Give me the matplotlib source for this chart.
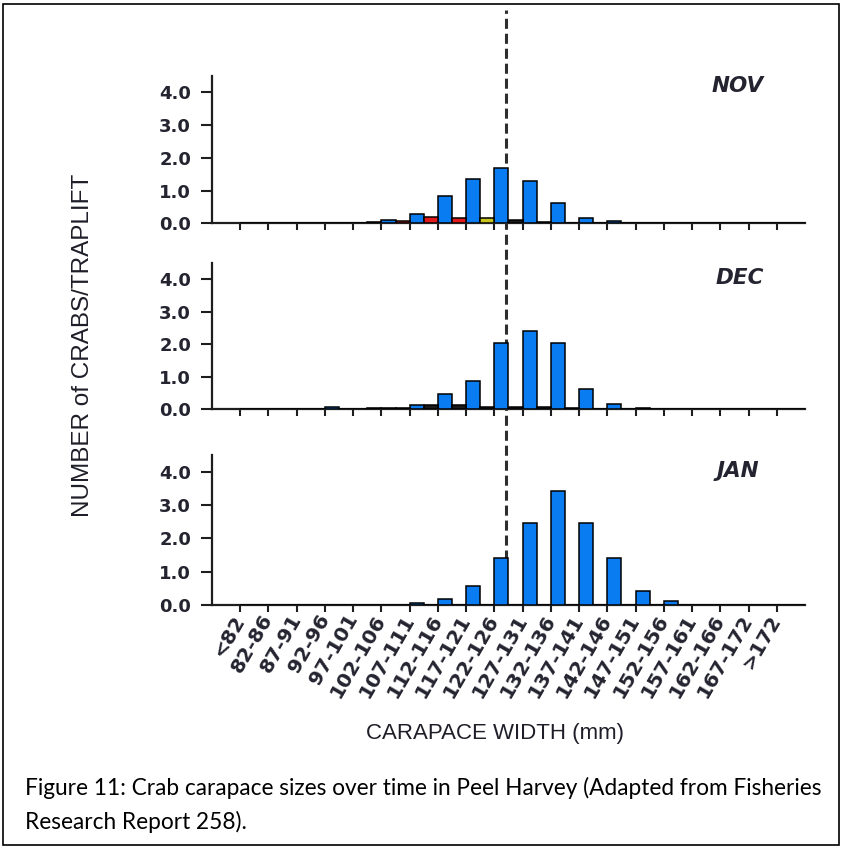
import matplotlib
matplotlib.use('Agg')
import matplotlib.pyplot as plt
import matplotlib.transforms as mtransforms
from matplotlib.lines import Line2D
from matplotlib.patches import Rectangle

# ---------------- data ----------------
categories = ['<82', '82-86', '87-91', '92-96', '97-101', '102-106', '107-111',
              '112-116', '117-121', '122-126', '127-131', '132-136', '137-141',
              '142-146', '147-151', '152-156', '157-161', '162-166', '167-172', '>172']
months = ['NOV', 'DEC', 'JAN']

nov_main = [0, 0, 0, 0, 0, 0.10, 0.28, 0.84, 1.35, 1.68, 1.29, 0.61, 0.17, 0.07, 0, 0, 0, 0, 0, 0]
nov_other = [0, 0, 0, 0, 0.04, 0.08, 0.20, 0.17, 0.15, 0.10, 0.05, 0, 0, 0, 0, 0, 0, 0, 0, 0]
nov_other_colors = ['#1a1a1a'] * 5 + ['#e31a1c', '#e31a1c', '#e31a1c', '#c9c41e'] + ['#1a1a1a'] * 11

dec_main = [0, 0, 0, 0.08, 0, 0.03, 0.13, 0.46, 0.87, 2.04, 2.40, 2.04, 0.63, 0.16, 0.05, 0, 0, 0, 0, 0]
dec_other = [0, 0, 0, 0, 0.03, 0.03, 0.12, 0.13, 0.07, 0.07, 0.07, 0.05, 0, 0, 0, 0, 0, 0, 0, 0]
dec_other_colors = ['#1a1a1a'] * 20

jan_main = [0, 0, 0, 0, 0, 0, 0.05, 0.18, 0.56, 1.40, 2.45, 3.42, 2.45, 1.40, 0.42, 0.10, 0, 0, 0, 0]
jan_other = [0] * 20
jan_other_colors = ['#1a1a1a'] * 20

main_series = [nov_main, dec_main, jan_main]
other_series = [nov_other, dec_other, jan_other]
other_colors = [nov_other_colors, dec_other_colors, jan_other_colors]

y_ticks = [0, 1, 2, 3, 4]
size_limit_pos = 9.42   # position of the dashed size-limit line (category units)

# ---------------- figure ----------------
W, H = 843, 848
fig = plt.figure(figsize=(W / 100, H / 100), dpi=100)
fig.patch.set_facecolor('white')

BLUE = '#0a7cf2'
INK = '#242430'

left_px, right_px = 212, 805
panel_px = [(76, 223.3), (262.7, 409.3), (455, 604.8)]

axes = []
for (top, bot) in panel_px:
    ax = fig.add_axes([left_px / W, 1 - bot / H, (right_px - left_px) / W, (bot - top) / H])
    axes.append(ax)

x = list(range(len(categories)))
month_label_pos = [(0.887, 0.935), (0.89, 0.895), (0.887, 0.89)]

for k, ax in enumerate(axes):
    ax.bar(x, main_series[k], width=0.5, align='edge', color=BLUE,
           edgecolor='black', linewidth=1.1, zorder=3)
    ax.bar([v + 0.5 for v in x], other_series[k], width=0.5, align='edge',
           color=other_colors[k], edgecolor='black', linewidth=1.1, zorder=3)
    ax.set_xlim(-1, 20)
    ax.set_ylim(0, 4.5)
    ax.set_yticks(y_ticks)
    ax.set_yticklabels(['%.1f' % v for v in y_ticks])
    ax.set_xticks(x)
    for s in ['top', 'right']:
        ax.spines[s].set_visible(False)
    for s in ['left', 'bottom']:
        ax.spines[s].set_linewidth(1.6)
        ax.spines[s].set_color('#1e1e1e')
    ax.tick_params(axis='y', direction='out', length=8, width=1.5, pad=7,
                   labelsize=13, colors='#1e1e1e', labelcolor=INK)
    ax.tick_params(axis='x', direction='out', length=5, width=1.5, pad=3,
                   colors='#1e1e1e', labelcolor=INK)
    for lab in ax.get_yticklabels():
        lab.set_fontweight('bold')
        lab.set_family('DejaVu Sans')
    ax.patch.set_alpha(0)
    ax.text(month_label_pos[k][0], month_label_pos[k][1], months[k], transform=ax.transAxes,
            ha='center', va='center', fontsize=15.5, fontweight='bold', fontstyle='italic',
            family='DejaVu Sans', color=INK)
    if k < 2:
        ax.set_xticklabels([])
    else:
        ax.set_xticklabels(categories, rotation=60, ha='right', va='center',
                           rotation_mode='anchor', fontsize=14.5, fontweight='bold',
                           family='DejaVu Sans')

# dashed size-limit line running through all three panels
seg_bounds = [(1 - 10 / H, 1 - panel_px[0][1] / H),
              (1 - panel_px[0][1] / H, 1 - panel_px[1][1] / H),
              (1 - panel_px[1][1] / H, 1 - panel_px[2][1] / H)]
for ax, (y_top, y_bot) in zip(axes, seg_bounds):
    tr = mtransforms.blended_transform_factory(ax.transData, fig.transFigure)
    ln = Line2D([size_limit_pos, size_limit_pos], [y_bot, y_top], transform=tr,
                color='#2e2e2e', linewidth=2.2, linestyle=(0, (3.3, 1.6)),
                zorder=2.5, clip_on=False)
    ax.add_line(ln)

# axis titles
fig.text(83 / W, 1 - 345 / H, 'NUMBER of CRABS/TRAPLIFT', rotation=90,
         ha='center', va='center', fontsize=17.5, family='Liberation Sans', color='#1e1e28')
fig.text(495 / W, 1 - 733 / H, 'CARAPACE WIDTH (mm)', ha='center', va='center',
         fontsize=16, family='Liberation Sans', color='#1e1e28')

# caption
cap1 = fig.text(25 / W, 1 - 795 / H,
                'Figure 11: Crab carapace sizes over time in Peel Harvey (Adapted from Fisheries',
                ha='left', va='baseline', fontsize=16, family='Lato', color='black')
cap2 = fig.text(25 / W, 1 - 829 / H, 'Research Report 258).',
                ha='left', va='baseline', fontsize=16, family='Lato', color='black')
fig.canvas.draw()
r = fig.canvas.get_renderer()
w = cap1.get_window_extent(r).width
fs = 16 * 797 / w
cap1.set_fontsize(fs)
cap2.set_fontsize(fs)

# border
fig.patches.append(Rectangle((3 / W, 3 / H), (839 - 3) / W, (845 - 4) / H,
                             transform=fig.transFigure, fill=False,
                             edgecolor='black', linewidth=1.2))

fig.savefig('out.png', dpi=100, facecolor='white')
